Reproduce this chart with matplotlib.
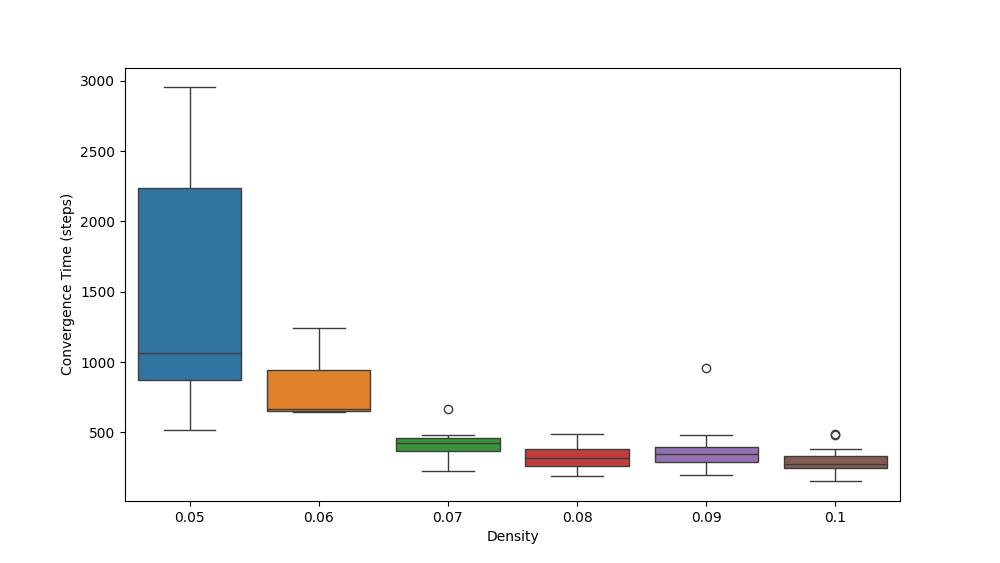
import pandas as pd
import matplotlib
matplotlib.use("Agg")
import matplotlib.pyplot as plt
import seaborn as sns

# convergence times per density (steps)
densities = ["0.05", "0.06", "0.07", "0.08", "0.09", "0.1"]
times_005 = [516, 700, 870, 950, 1062, 1600, 2239, 2600, 2955]
times_006 = [645, 648, 652, 658, 664, 800, 946, 1100, 1240]
times_007 = [222, 300, 365, 400, 422, 440, 462, 479, 664]
times_008 = [187, 230, 258, 290, 317, 350, 379, 430, 486]
times_009 = [194, 250, 286, 320, 343, 370, 393, 479, 955]
times_010 = [151, 200, 230, 244, 255, 265, 272, 290, 310, 329, 379, 478, 485]

all_times = [times_005, times_006, times_007, times_008, times_009, times_010]

rows = []
for d, vals in zip(densities, all_times):
    for v in vals:
        rows.append({"Density": d, "Convergence Time (steps)": v})
df = pd.DataFrame(rows)

fig = plt.figure(figsize=(10, 5.63), dpi=100)
ax = fig.add_subplot(111)
sns.boxplot(data=df, x="Density", y="Convergence Time (steps)", hue="Density",
            order=densities, hue_order=densities, palette="tab10",
            legend=False, ax=ax)

plt.savefig("out.png", dpi=100)
plt.close()
